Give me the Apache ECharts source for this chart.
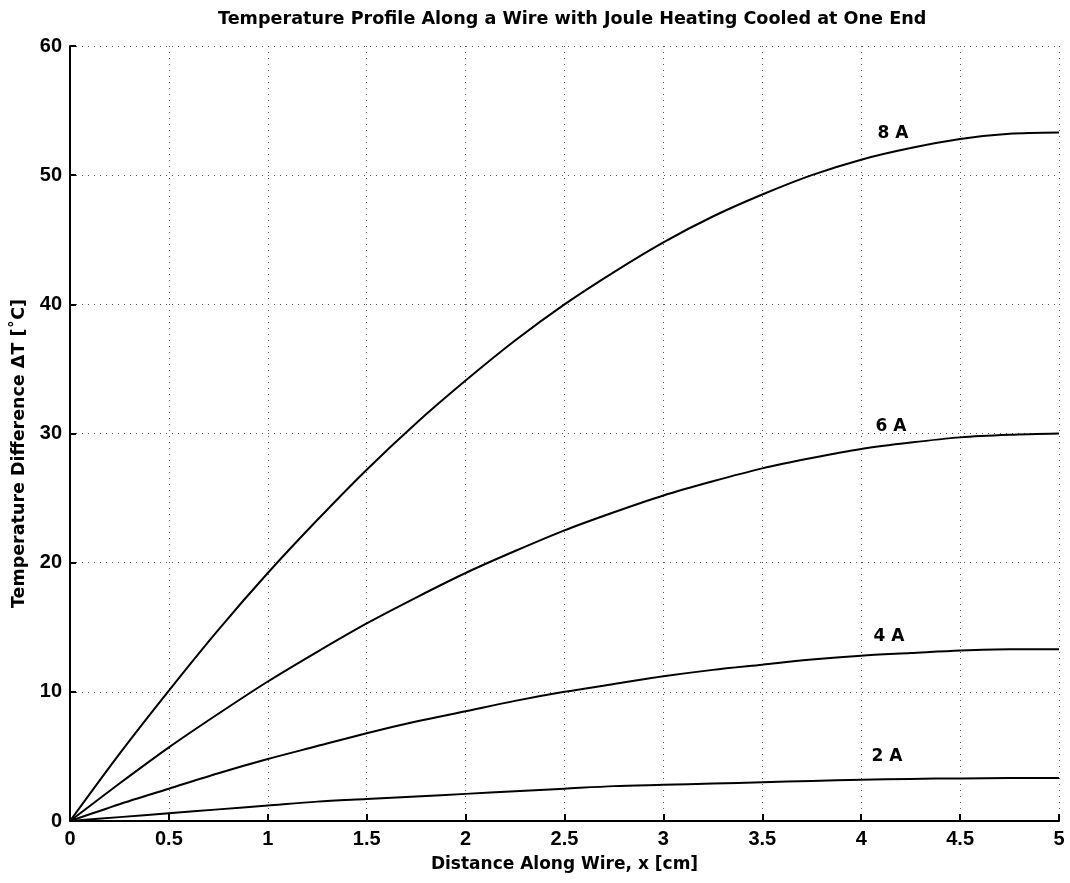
<!DOCTYPE html>
<html><head><meta charset="utf-8">
<script src="https://cdn.jsdelivr.net/npm/echarts@6/dist/echarts.min.js"></script>
<style>html,body{margin:0;padding:0;background:#fff}#c{width:1070px;height:883px}</style>
</head><body><div id="c"></div>
<script>
const xs = [0,0.25,0.5,0.75,1,1.25,1.5,1.75,2,2.25,2.5,2.75,3,3.25,3.5,3.75,4,4.25,4.5,4.75,5];
const t8A = [0,5.2,10.1,14.8,19.2,23.3,27.2,30.8,34.1,37.2,40.0,42.5,44.8,46.8,48.5,50.0,51.2,52.1,52.8,53.2,53.3];
const t6A = [0,2.9,5.7,8.3,10.8,13.1,15.3,17.3,19.2,20.9,22.5,23.9,25.2,26.3,27.3,28.1,28.8,29.3,29.7,29.9,30.0];
const t4A = [0,1.3,2.5,3.7,4.8,5.8,6.8,7.7,8.5,9.3,10.0,10.6,11.2,11.7,12.1,12.5,12.8,13.0,13.2,13.3,13.3];
const t2A = [0,0.3,0.6,0.9,1.2,1.5,1.7,1.9,2.1,2.3,2.5,2.7,2.8,2.9,3.0,3.1,3.2,3.26,3.3,3.32,3.33];
const seriesNames = ['8 A','6 A','4 A','2 A'];
const labelX = [4.16,4.15,4.14,4.13];
const labelY = [53.2,30.5,14.3,4.95];

const all = [t8A,t6A,t4A,t2A];
const sans = '"Liberation Sans", Arial, sans-serif';
const wide = '"DejaVu Sans", sans-serif';
const series = all.map((arr,i)=>({
  type:'line', name:seriesNames[i], data: xs.map((x,j)=>[x,arr[j]]),
  smooth:0.3, showSymbol:false, symbol:'none',
  lineStyle:{color:'#000',width:2}, z:3, silent:true
}));
series.push({
  type:'scatter', symbolSize:0, silent:true, itemStyle:{color:'#000',opacity:1},
  data: seriesNames.map((n,i)=>({value:[labelX[i],labelY[i]],name:n})),
  label:{show:true,position:'inside',formatter:p=>p.name,color:'#000',opacity:1,fontWeight:'bold',fontSize:17,
    fontFamily:wide,textBorderWidth:0,textBorderColor:'transparent'}
});

const chart = echarts.init(document.getElementById('c'));
chart.setOption({
  animation:false,
  backgroundColor:'#fff',
  title:{text:'Temperature Profile Along a Wire with Joule Heating Cooled at One End',left:213,top:5,
    textStyle:{fontSize:17.6,fontWeight:'bold',color:'#000',fontFamily:wide}},
  grid:{left:70,right:11,top:46,bottom:62,outerBoundsMode:'none',containLabel:false},
  xAxis:{type:'value',min:0,max:5,interval:0.5,
    name:'Distance Along Wire, x [cm]',nameLocation:'middle',nameGap:35,
    nameTextStyle:{fontSize:17,fontWeight:'bold',color:'#000',fontFamily:wide},
    axisLine:{show:true,onZero:false,lineStyle:{color:'#000',width:2}},
    axisTick:{show:true,inside:true,length:7,lineStyle:{color:'#000',width:2}},
    axisLabel:{fontSize:20,fontWeight:'bold',color:'#000',fontFamily:sans,margin:8},
    splitLine:{show:true,lineStyle:{color:'#555',type:[1,5],width:1}}
  },
  yAxis:{type:'value',min:0,max:60,interval:10,
    name:'Temperature Difference \u0394T [\u02daC]',nameLocation:'middle',nameGap:38,
    nameTextStyle:{fontSize:17.5,fontWeight:'bold',color:'#000',fontFamily:wide,padding:[0,40,0,0]},
    axisLine:{show:true,onZero:false,lineStyle:{color:'#000',width:2}},
    axisTick:{show:true,inside:true,length:6,lineStyle:{color:'#000',width:2}},
    axisLabel:{fontSize:20,fontWeight:'bold',color:'#000',fontFamily:sans,margin:8},
    splitLine:{show:true,lineStyle:{color:'#555',type:[1,5],width:1}}
  },
  series:series
});
</script></body></html>
